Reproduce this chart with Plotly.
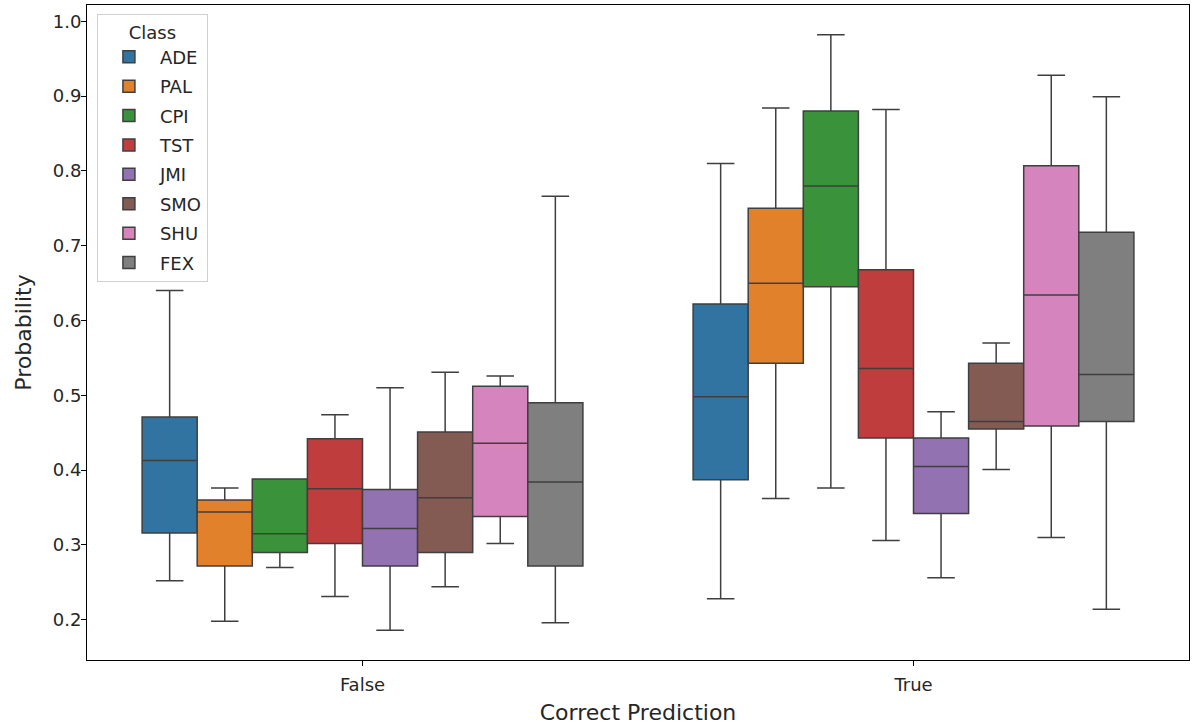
# Box plot of predicted probability per class, split by correct / incorrect prediction

import plotly.graph_objects as go


groups = ["False", "True"]
classes = ["ADE", "PAL", "CPI", "TST", "JMI", "SMO", "SHU", "FEX"]
colors = ["#3274a1", "#e1812c", "#3a923a", "#c03d3e",
          "#9372b2", "#845b53", "#d684bd", "#7f7f7f"]

# box statistics per class, each list is [False, True]
lower_ade = [0.252, 0.228]
q1_ade = [0.316, 0.387]
median_ade = [0.413, 0.498]
q3_ade = [0.471, 0.622]
upper_ade = [0.640, 0.810]

lower_pal = [0.198, 0.362]
q1_pal = [0.272, 0.543]
median_pal = [0.344, 0.650]
q3_pal = [0.360, 0.750]
upper_pal = [0.376, 0.884]

lower_cpi = [0.270, 0.376]
q1_cpi = [0.290, 0.645]
median_cpi = [0.315, 0.780]
q3_cpi = [0.388, 0.880]
upper_cpi = [0.388, 0.982]

lower_tst = [0.231, 0.306]
q1_tst = [0.302, 0.443]
median_tst = [0.375, 0.536]
q3_tst = [0.442, 0.668]
upper_tst = [0.474, 0.882]

lower_jmi = [0.186, 0.256]
q1_jmi = [0.272, 0.342]
median_jmi = [0.322, 0.405]
q3_jmi = [0.374, 0.443]
upper_jmi = [0.510, 0.478]

lower_smo = [0.244, 0.401]
q1_smo = [0.290, 0.455]
median_smo = [0.363, 0.465]
q3_smo = [0.451, 0.543]
upper_smo = [0.531, 0.570]

lower_shu = [0.302, 0.310]
q1_shu = [0.338, 0.459]
median_shu = [0.436, 0.634]
q3_shu = [0.512, 0.807]
upper_shu = [0.526, 0.928]

lower_fex = [0.196, 0.214]
q1_fex = [0.272, 0.465]
median_fex = [0.384, 0.528]
q3_fex = [0.490, 0.718]
upper_fex = [0.766, 0.899]

stats = {
    "ADE": (lower_ade, q1_ade, median_ade, q3_ade, upper_ade),
    "PAL": (lower_pal, q1_pal, median_pal, q3_pal, upper_pal),
    "CPI": (lower_cpi, q1_cpi, median_cpi, q3_cpi, upper_cpi),
    "TST": (lower_tst, q1_tst, median_tst, q3_tst, upper_tst),
    "JMI": (lower_jmi, q1_jmi, median_jmi, q3_jmi, upper_jmi),
    "SMO": (lower_smo, q1_smo, median_smo, q3_smo, upper_smo),
    "SHU": (lower_shu, q1_shu, median_shu, q3_shu, upper_shu),
    "FEX": (lower_fex, q1_fex, median_fex, q3_fex, upper_fex),
}

y_ticks = [0.2, 0.3, 0.4, 0.5, 0.6, 0.7, 0.8, 0.9, 1.0]


def probability_boxplot():
    """Function to build grouped box plot from precomputed statistics"""
    fig = go.Figure()
    for name, color in zip(classes, colors):
        lower, q1, median, q3, upper = stats[name]
        fig.add_trace(go.Box(
            name=name, x=groups, legendgroup=name,
            lowerfence=lower, q1=q1, median=median, q3=q3, upperfence=upper,
            fillcolor=color, line=dict(color="#3f3f3f", width=1.5),
            whiskerwidth=0.5, boxpoints=False))

    axis_style = dict(showline=True, mirror=True, linecolor="black", linewidth=1,
                      ticks="outside", ticklen=5, tickcolor="black",
                      showgrid=False, zeroline=False, automargin=False,
                      tickfont=dict(size=18, color="#262626"))
    fig.update_layout(
        width=1200, height=725,
        font=dict(family="DejaVu Sans", size=18, color="#262626"),
        paper_bgcolor="white", plot_bgcolor="white",
        margin=dict(l=87, r=11, t=5, b=65),
        boxmode="group", boxgap=0.2, boxgroupgap=0,
        xaxis=dict(type="category", range=[-0.5, 1.5], ticklabelstandoff=3,
                   title=dict(text="Correct Prediction", standoff=11), **axis_style),
        yaxis=dict(range=[0.1462, 1.0218], tickvals=y_ticks, tickformat=".1f",
                   ticklabelstandoff=-4,
                   title=dict(text="Probability", standoff=15), **axis_style),
        legend=dict(title=dict(text="Class", side="top center", font=dict(size=18)),
                    x=0.009, y=0.986, xanchor="left", yanchor="top",
                    bgcolor="rgba(255,255,255,0.8)", bordercolor="#d0d0d0",
                    borderwidth=1, font=dict(size=18), tracegroupgap=3,
                    itemwidth=52),
    )
    return fig


fig = probability_boxplot()
# page body has a default margin, drop it so the figure sits at the window corner
fig.write_html("out.html", config={"displayModeBar": False},
               post_script="document.body.style.margin = '0';")
